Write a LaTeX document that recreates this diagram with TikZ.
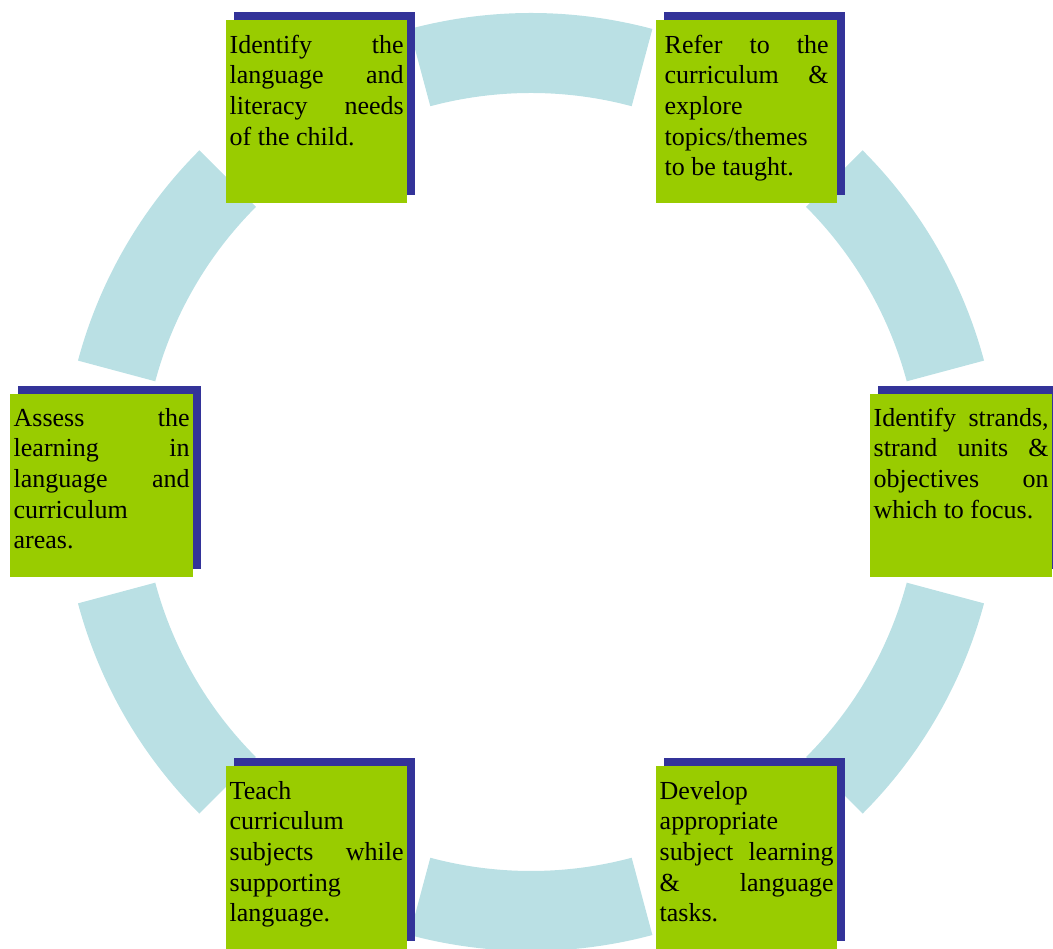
\documentclass[tikz,border=0pt]{standalone}
\usepackage{fontspec}
\setmainfont{Liberation Serif}
\usepackage{tikz}
\usetikzlibrary{shadows}

\definecolor{stepgreen}{RGB}{153,204,0}
\definecolor{shadenavy}{RGB}{51,51,153}
\definecolor{ringblue}{RGB}{186,224,228}
\tolerance=10000
\hyphenpenalty=10000

\begin{document}
\begin{tikzpicture}[x=1pt, y=1pt,
    stepbox/.style={rectangle, fill=stepgreen, anchor=north west, text width=174pt, inner xsep=3.5pt, inner ysep=0pt, text height=33pt, text depth=150pt, align=justify, font=\fontsize{26}{30.7}\selectfont, drop shadow={fill=shadenavy, opacity=1, shadow xshift=8pt, shadow yshift=8pt}},
    ringpart/.style={fill=ringblue}]
    \useasboundingbox (0,0) rectangle (1053,949);

    % Ring
    \begin{scope}[shift={(531,467)}]
        \foreach \a in {15,75,...,315}
            \fill [ringpart] (\a:389) arc [start angle=\a, end angle=\a+30, radius=389] -- (\a+30:469) arc [start angle=\a+30, end angle=\a, radius=469] -- cycle;
    \end{scope}

    % Nodes
    \node [stepbox] (identify) at (226,929) {Identify the\linebreak language and\linebreak literacy needs\linebreak of the child.};
    \node [stepbox, text width=164pt, inner xsep=8.5pt] (refer) at (656,929) {Refer to the\linebreak curriculum \&\linebreak explore\linebreak topics/themes\linebreak to be taught.};
    \node [stepbox, text width=175pt, text height=32pt, text depth=151pt] (strands) at (870,555) {Identify strands,\linebreak strand units \&\linebreak objectives on\linebreak which to focus.};
    \node [stepbox] (develop) at (656,183) {Develop\linebreak appropriate\linebreak subject learning\linebreak \& language\linebreak tasks.};
    \node [stepbox] (teach) at (226,183) {Teach\linebreak curriculum\linebreak subjects while\linebreak supporting\linebreak language.};
    \node [stepbox, text width=176pt, text height=32pt, text depth=151pt] (assess) at (10,555) {Assess the\linebreak learning in\linebreak language and\linebreak curriculum\linebreak areas.};
\end{tikzpicture}
\end{document}
